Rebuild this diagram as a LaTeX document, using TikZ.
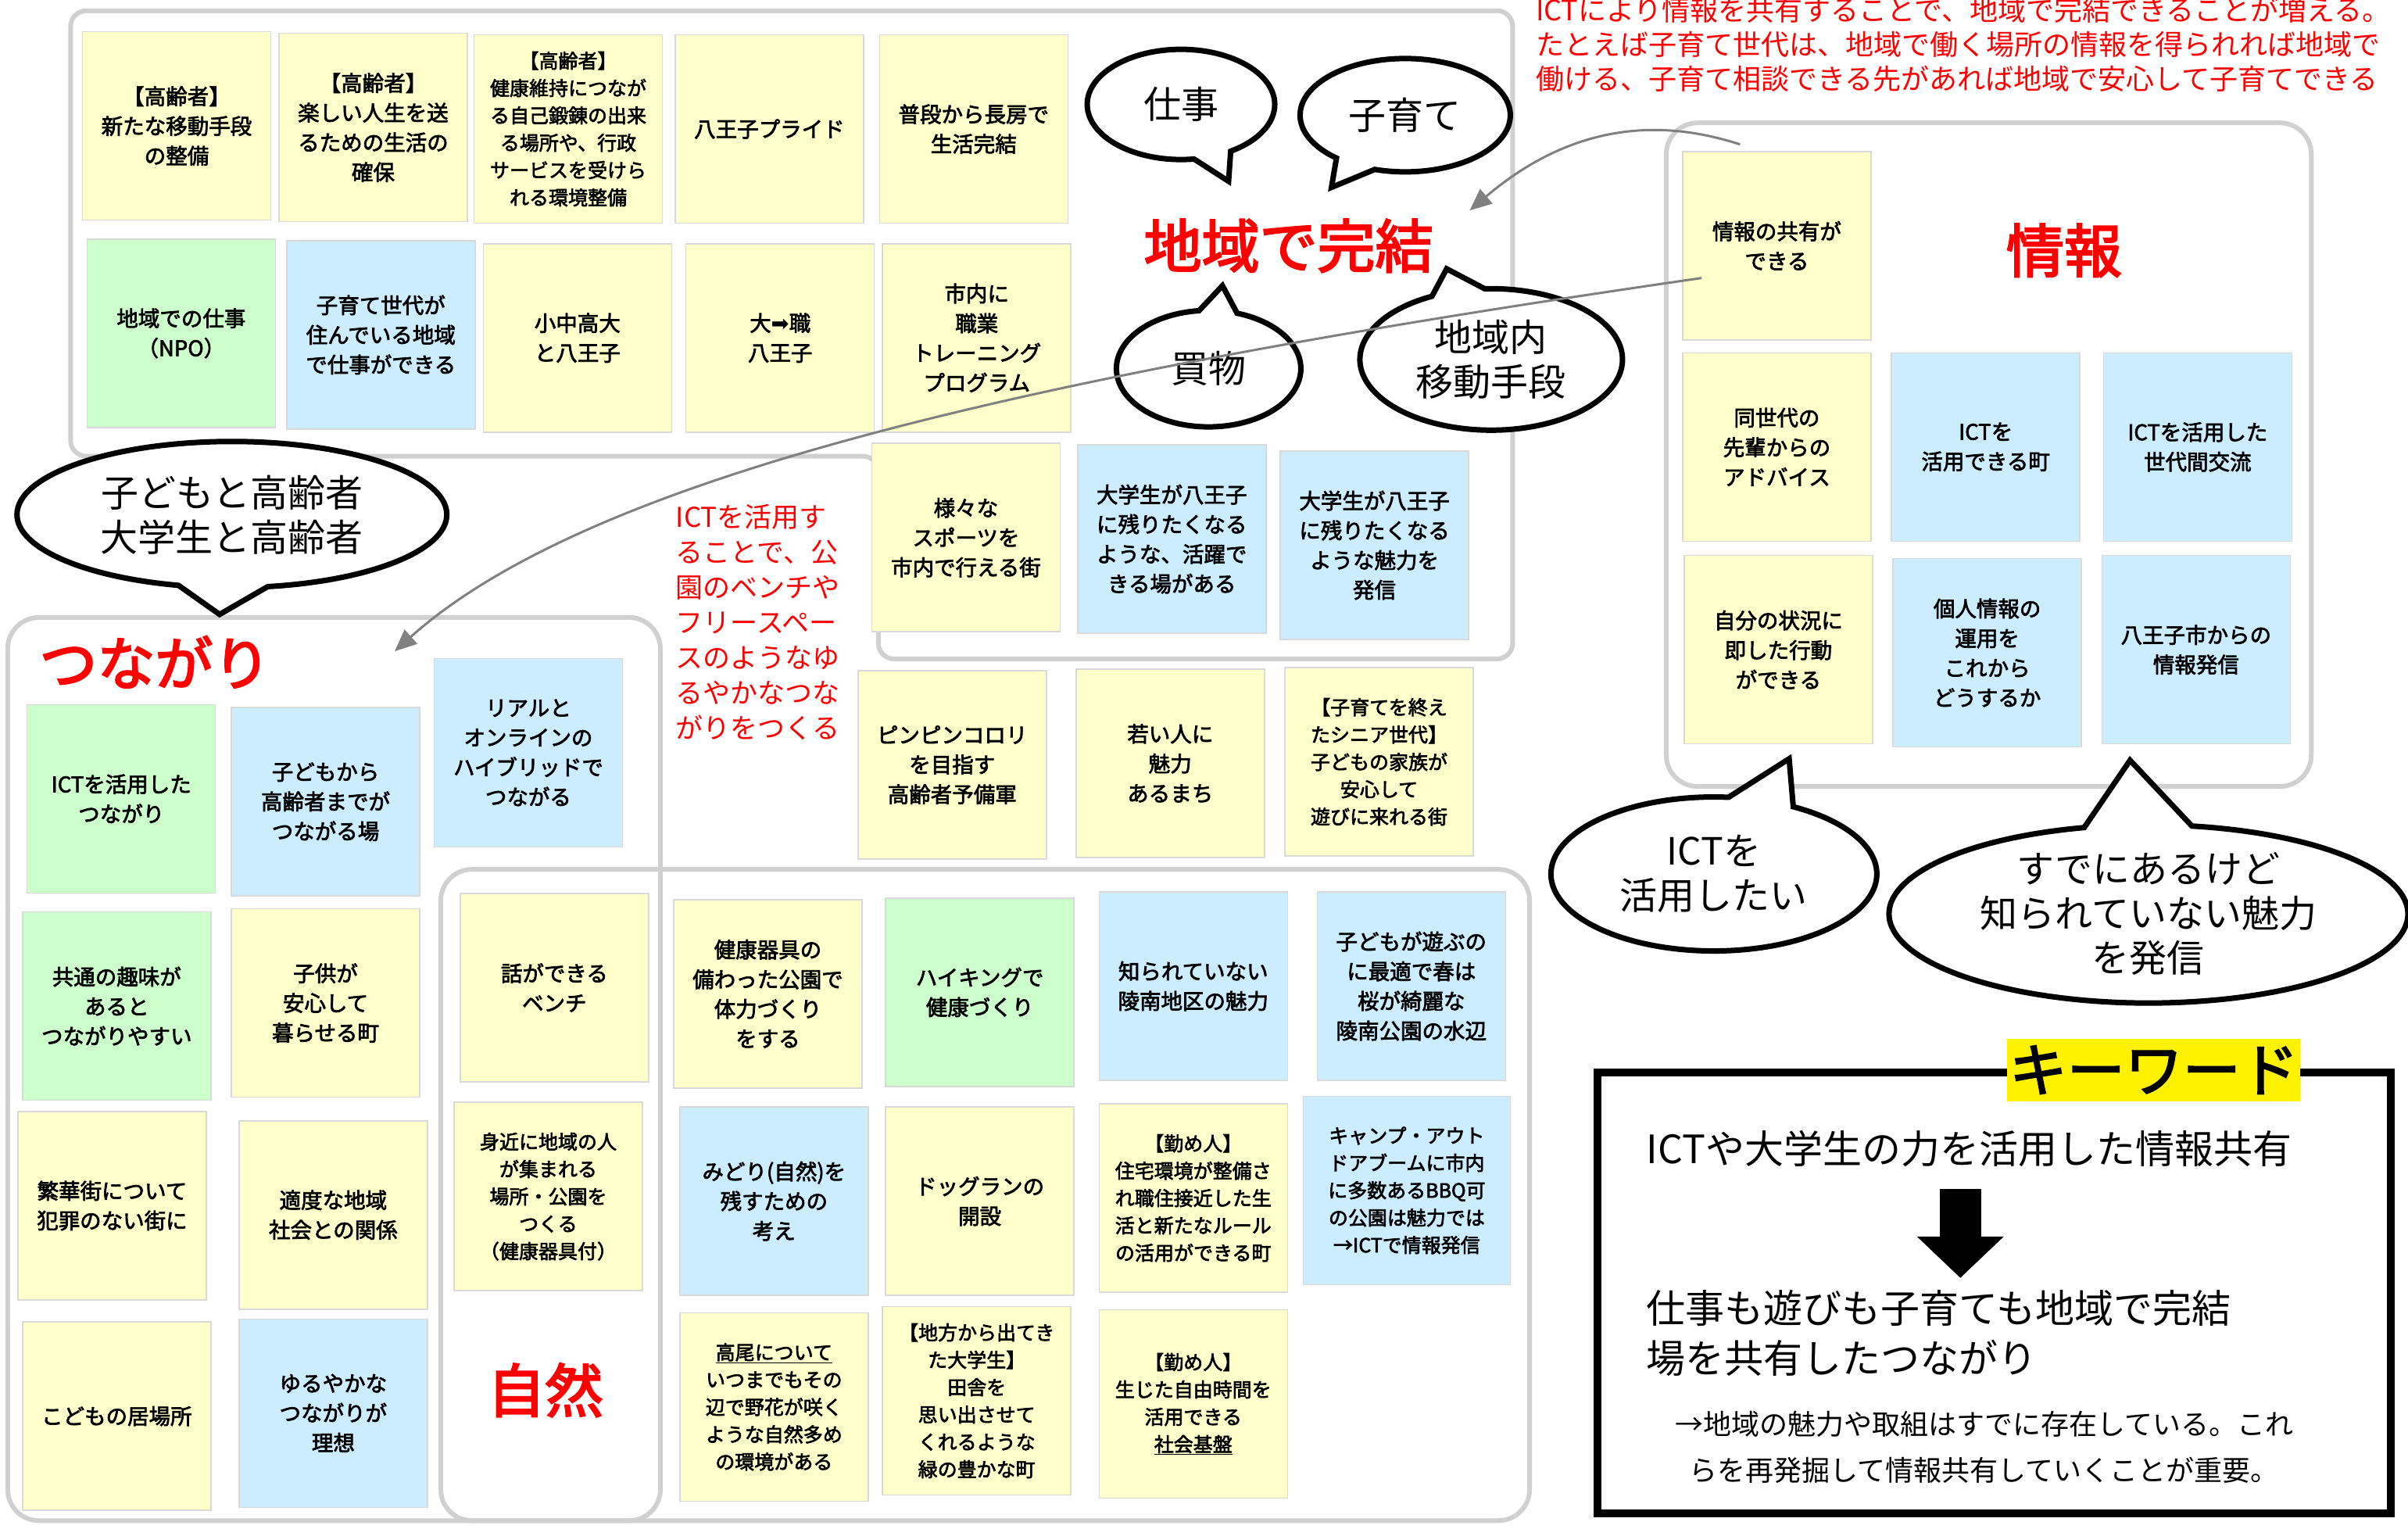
\documentclass[tikz,border=0pt]{standalone}
\usepackage{fontspec}
\setmainfont{Noto Sans CJK JP}
\newfontfamily\jp{Noto Sans CJK JP}
\newfontfamily\jpb{Noto Sans CJK JP}[FakeBold=2.6]
\newfontfamily\jpbb{Noto Sans CJK JP}[FakeBold=3]
\newfontfamily\sym{DejaVu Sans}
\usetikzlibrary{shapes.callouts, arrows.meta}
\definecolor{noteyellow}{HTML}{FFFFCC}
\definecolor{notegreen}{HTML}{CCFFCC}
\definecolor{noteblue}{HTML}{CCECFF}
\definecolor{noteline}{HTML}{D9D9D9}
\definecolor{framegray}{HTML}{D0D0D0}
\definecolor{arrowgray}{HTML}{808080}
\begin{document}
\begin{tikzpicture}[
            x=1.965pt, y=-1.965pt,
            noteBox/.style={draw=noteline, line width=1.5pt, minimum width=241pt, minimum height=241pt, inner sep=2pt, align=center, font=\jpb\fontsize{27.5}{38}\selectfont},
            yNote/.style={noteBox, fill=noteyellow},
            gNote/.style={noteBox, fill=notegreen},
            bNote/.style={noteBox, fill=noteblue},
            dense/.style={font=\jpb\fontsize{25}{35}\selectfont},
            grayFrame/.style={draw=framegray, line width=6pt, rounded corners=40pt},
            talkBubble/.style={ellipse callout, draw=black, fill=white, line width=7pt, inner sep=0pt, align=center, callout pointer arc=24, font=\jp\fontsize{48}{57}\selectfont},
            bigLabel/.style={text=red, inner sep=0pt, font=\jpbb\fontsize{74}{80}\selectfont},
            redText/.style={text=red, inner sep=0pt, align=left, anchor=west},
            grayArrow/.style={draw=arrowgray, line width=3pt, -{Triangle[length=28pt,width=24pt]}}
        ]

        \useasboundingbox (0,0) rectangle (1568,995);

        \draw[grayFrame, rounded corners=20pt] (46,7) -- (985,7) -- (985,429) -- (572,429) -- (572,297) -- (46,297) -- cycle;
        \draw[grayFrame] (1085,80) rectangle (1505,512);
        \draw[grayFrame] (5,402) rectangle (430,990);
        \draw[grayFrame] (287,566) rectangle (996,990);

        \node[yNote] (n1) at (115,82) {【高齢者】\\新たな移動手段\\の整備};
        \node[yNote] (n2) at (243,83) {【高齢者】\\楽しい人生を送\\るための生活の\\確保};
        \node[yNote, dense] (n3) at (370,84) {【高齢者】\\健康維持につなが\\る自己鍛錬の出来\\る場所や、行政\\サービスを受けら\\れる環境整備};
        \node[yNote] (n4) at (501,84) {八王子プライド};
        \node[yNote] (n5) at (634,84) {普段から長房で\\生活完結};
        \node[gNote] (n6) at (118,217) {地域での仕事\\（NPO）};
        \node[bNote] (n7) at (248,218) {子育て世代が\\住んでいる地域\\で仕事ができる};
        \node[yNote] (n8) at (376,220) {小中高大\\と八王子};
        \node[yNote] (n9) at (508,220) {大{\sym ➡}職\\八王子};
        \node[yNote] (n10) at (636,220) {市内に\\職業\\トレーニング\\プログラム};
        \node[yNote] (n11) at (629,350) {様々な\\スポーツを\\市内で行える街};
        \node[bNote] (n12) at (763,351) {大学生が八王子\\に残りたくなる\\ような、活躍で\\きる場がある};
        \node[bNote] (n13) at (895,355) {大学生が八王子\\に残りたくなる\\ような魅力を\\発信};

        \node[yNote] (r1) at (1157,160) {情報の共有が\\できる};
        \node[yNote] (r2) at (1157,291) {同世代の\\先輩からの\\アドバイス};
        \node[bNote] (r3) at (1293,291) {ICTを\\活用できる町};
        \node[bNote] (r4) at (1431,291) {ICTを活用した\\世代間交流};
        \node[yNote] (r5) at (1158,423) {自分の状況に\\即した行動\\ができる};
        \node[bNote] (r6) at (1294,425) {個人情報の\\運用を\\これから\\どうするか};
        \node[bNote] (r7) at (1430,423) {八王子市からの\\情報発信};

        \node[yNote] (m1) at (620,498) {ピンピンコロリ\\を目指す\\高齢者予備軍};
        \node[yNote] (m2) at (762,497) {若い人に\\魅力\\あるまち};
        \node[yNote, dense] (m3) at (898,496) {【子育てを終え\\たシニア世代】\\子どもの家族が\\安心して\\遊びに来れる街};

        \node[bNote] (t1) at (344,490) {リアルと\\オンラインの\\ハイブリッドで\\つながる};
        \node[gNote] (t2) at (79,520) {ICTを活用した\\つながり};
        \node[bNote] (t3) at (212,522) {子どもから\\高齢者までが\\つながる場};
        \node[gNote] (t4) at (76,655) {共通の趣味が\\あると\\つながりやすい};
        \node[yNote] (t5) at (212,653) {子供が\\安心して\\暮らせる町};
        \node[yNote] (t6) at (73,785) {繁華街について\\犯罪のない街に};
        \node[yNote] (t7) at (217,791) {適度な地域\\社会との関係};
        \node[yNote] (t8) at (76,922) {こどもの居場所};
        \node[bNote] (t9) at (217,920) {ゆるやかな\\つながりが\\理想};

        \node[yNote] (z1) at (361,643) {話ができる\\ベンチ};
        \node[yNote] (z2) at (500,647) {健康器具の\\備わった公園で\\体力づくり\\をする};
        \node[gNote] (z3) at (638,646) {ハイキングで\\健康づくり};
        \node[bNote] (z4) at (777,642) {知られていない\\陵南地区の魅力};
        \node[bNote] (z5) at (919,642) {子どもが遊ぶの\\に最適で春は\\桜が綺麗な\\陵南公園の水辺};
        \node[yNote, dense] (z6) at (357,779) {身近に地域の人\\が集まれる\\場所・公園を\\つくる\\（健康器具付）};
        \node[bNote] (z7) at (504,782) {みどり(自然)を\\残すための\\考え};
        \node[yNote] (z8) at (638,782) {ドッグランの\\開設};
        \node[yNote, dense] (z9) at (777,780) {【勤め人】\\住宅環境が整備さ\\れ職住接近した生\\活と新たなルール\\の活用ができる町};
        \node[bNote, dense, minimum width=265pt] (z10) at (916,775) {キャンプ・アウト\\ドアブームに市内\\に多数あるBBQ可\\の公園は魅力では\\→ICTで情報発信};
        \node[yNote, dense] (z11) at (504,916) {\underline{高尾について}\\いつまでもその\\辺で野花が咲く\\ような自然多め\\の環境がある};
        \node[yNote, dense] (z12) at (636,912) {【地方から出てき\\た大学生】\\田舎を\\思い出させて\\くれるような\\緑の豊かな町};
        \node[yNote, dense] (z13) at (777,914) {【勤め人】\\生じた自由時間を\\活用できる\\\underline{社会基盤}};

        \node[bigLabel] (chiiki) at (839,160) {地域で完結};
        \node[bigLabel] (joho) at (1344,163) {情報};
        \node[bigLabel] (tsunagari) at (101,431) {つながり};
        \node[bigLabel] (shizen) at (355,905) {自然};

        \node[talkBubble, minimum width=240pt, minimum height=141pt, callout absolute pointer={(800,118)}] (bShigoto) at (769,68) {仕事};
        \node[talkBubble, minimum width=269pt, minimum height=145pt, callout absolute pointer={(867,122)}] (bKosodate) at (915,75) {子育て};
        \node[talkBubble, minimum width=236pt, minimum height=149pt, callout absolute pointer={(796,186)}] (bKaimono) at (787,240) {買物};
        \node[talkBubble, minimum width=336pt, minimum height=181pt, callout absolute pointer={(942,175)}] (bIdou) at (971,234) {地域内\\移動手段};
        \node[talkBubble, minimum width=550pt, minimum height=187pt, callout absolute pointer={(143,400)}] (bKodomo) at (151,335) {子どもと高齢者\\大学生と高齢者};
        \node[talkBubble, minimum width=417pt, minimum height=197pt, callout absolute pointer={(1165,494)}] (bIct) at (1116,569) {ICTを\\活用したい};
        \node[talkBubble, minimum width=664pt, minimum height=228pt, callout absolute pointer={(1387,495)}] (bSudeni) at (1399,595) {すでにあるけど\\知られていない魅力\\を発信};

        \node[redText, font=\jp\fontsize{36}{44}\selectfont] (topNote) at (1000,29) {ICTにより情報を共有することで、地域で完結できることが増える。\\たとえば子育て世代は、地域で働く場所の情報を得られれば地域で\\働ける、子育て相談できる先があれば地域で安心して子育てできる};
        \node[redText, font=\jp\fontsize{35}{45}\selectfont] (ictNote) at (440,405) {ICTを活用す\\ることで、公\\園のベンチや\\フリースペー\\スのようなゆ\\るやかなつな\\がりをつくる};

        \coordinate (a1s) at (1133,94);
        \coordinate (a1e) at (957,137);
        \coordinate (a2s) at (1108,181);
        \coordinate (a2e) at (257,424);
        \draw[grayArrow] (a1s) .. controls (1090,80) and (1030,75) .. (a1e);
        \draw[grayArrow] (a2s) .. controls (700,240) and (390,305) .. (a2e);

        \node[draw=black, line width=10pt, minimum width=1016pt, minimum height=564pt] (kwFrame) at (1298.5,841.5) {};
        \node[fill=yellow, inner sep=0pt, minimum width=375pt, minimum height=80pt, font=\jpb\fontsize{74}{80}\selectfont] (kwTitle) at (1402.5,696.5) {キーワード};
        \node[anchor=west, inner sep=0pt, font=\jp\fontsize{50}{60}\selectfont] (kwOne) at (1072,748) {ICTや大学生の力を活用した情報共有};
        \coordinate (kwArrTop) at (1276.5,774);
        \coordinate (kwArrTip) at (1276.5,832);
        \draw[line width=53pt, -{Triangle[length=53pt,width=108pt]}] (kwArrTop) -- (kwArrTip);
        \node[anchor=west, align=left, inner sep=0pt, font=\jp\fontsize{50}{64}\selectfont] (kwTwo) at (1072,868) {仕事も遊びも子育ても地域で完結\\場を共有したつながり};
        \node[align=center, inner sep=0pt, font=\jp\fontsize{36}{59}\selectfont] (kwThree) at (1292,942) {→地域の魅力や取組はすでに存在している。これ\\らを再発掘して情報共有していくことが重要。};

    \end{tikzpicture}
\end{document}
